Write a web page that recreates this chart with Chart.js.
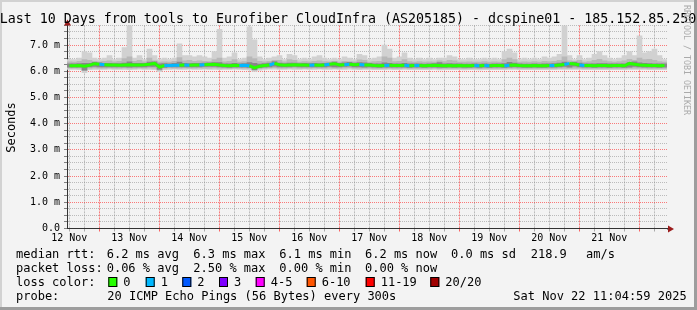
<!DOCTYPE html>
<html><head><meta charset="utf-8">
<script src="https://cdn.jsdelivr.net/npm/chart.js@4.4.0/dist/chart.umd.min.js"></script>
<style>html,body{margin:0;padding:0;background:#f3f3f3}canvas{display:block}</style>
</head><body>
<canvas id="c" width="697" height="310"></canvas>
<script>
// ---------- DATA ----------
const titleText = 'Last 10 Days from tools to Eurofiber CloudInfra (AS205185) - dcspine01 - 185.152.85.250';
const startTime = Date.UTC(2025, 10, 12, 11, 4, 59);   // graph start
const spanHours = 240;                                 // 10 days
const sampleStepHours = 2;                             // one sample every 2 h
const yTickStep = 0.25, yMax = 7.75;
const monthName = 'Nov';

// median RTT (ms)
const median = [6.21,6.21,6.22,6.19,6.23,6.29,6.27,6.25,6.24,6.24,
6.23,6.24,6.25,6.24,6.24,6.25,6.27,6.30,6.16,6.22,
6.22,6.23,6.23,6.24,6.23,6.24,6.24,6.25,6.26,6.27,
6.24,6.22,6.21,6.23,6.22,6.23,6.21,6.13,6.19,6.22,
6.24,6.30,6.25,6.23,6.24,6.25,6.24,6.24,6.23,6.24,
6.23,6.24,6.27,6.29,6.24,6.25,6.27,6.25,6.26,6.24,
6.24,6.22,6.21,6.22,6.23,6.22,6.22,6.23,6.21,6.22,
6.22,6.21,6.22,6.23,6.22,6.21,6.22,6.21,6.22,6.21,
6.21,6.22,6.21,6.22,6.21,6.22,6.22,6.21,6.23,6.24,
6.22,6.21,6.21,6.22,6.21,6.21,6.22,6.22,6.24,6.26,
6.30,6.28,6.24,6.22,6.22,6.21,6.22,6.22,6.21,6.22,
6.22,6.21,6.30,6.27,6.24,6.23,6.22,6.22,6.21,6.22];
// packet loss count per sample (out of 20)
const loss = [0,0,0,0,0,0,1,0,0,0,
0,0,0,0,0,0,0,0,0,1,
1,1,0,1,0,0,1,0,0,0,
0,0,0,0,1,1,0,0,0,0,
1,0,0,0,0,0,0,0,1,0,
0,1,0,0,0,1,0,0,1,0,
0,0,0,1,0,0,0,1,0,1,
0,0,0,0,0,0,0,0,0,0,
0,1,0,1,0,0,0,1,0,0,
0,0,0,0,0,0,1,0,0,1,
0,0,1,0,0,0,0,0,0,0,
0,0,0,0,0,0,0,0,0,0];
// smoke: outer (light) band
const smokeHi = [6.45,6.45,6.50,6.75,6.70,6.50,6.45,6.50,6.60,6.45,
6.50,6.90,7.75,6.50,6.60,6.45,6.85,6.60,6.45,6.50,
6.45,6.50,7.05,6.60,6.60,6.55,6.60,6.55,6.50,6.75,
7.60,6.50,6.55,6.70,6.45,6.50,7.70,7.20,6.55,6.45,
6.50,6.55,6.60,6.45,6.65,6.60,6.45,6.50,6.45,6.55,
6.60,6.50,6.45,6.50,6.45,6.55,6.50,6.45,6.65,6.60,
6.45,6.50,6.55,7.00,6.85,6.50,6.55,6.70,6.50,6.45,
6.50,6.45,6.50,6.45,6.50,6.50,6.60,6.55,6.45,6.45,
6.50,6.45,6.45,6.50,6.45,6.50,6.45,6.75,6.85,6.70,
6.45,6.50,6.45,6.50,6.45,6.55,6.50,6.55,6.65,7.75,
6.60,6.45,6.60,6.45,6.50,6.65,6.75,6.60,6.50,6.45,
6.50,6.60,6.75,6.60,7.35,6.70,6.75,6.85,6.60,6.45];
const smokeLo = [6.07,6.07,6.06,5.95,6.06,6.07,6.07,6.07,6.08,6.07,
6.07,6.07,6.06,6.07,6.08,6.07,6.07,6.06,5.98,6.06,
6.07,6.08,6.07,6.07,6.08,6.07,6.07,6.08,6.07,6.07,
6.06,6.07,6.07,6.08,6.07,6.06,6.05,5.99,6.04,6.07,
6.08,6.08,6.07,6.07,6.08,6.07,6.07,6.08,6.07,6.07,
6.08,6.07,6.07,6.08,6.07,6.07,6.08,6.07,6.06,6.07,
6.07,6.06,6.06,6.06,6.07,6.06,6.06,6.07,6.06,6.06,
6.06,6.06,6.06,6.07,6.05,6.06,6.06,6.06,6.06,6.05,
6.06,6.06,6.05,6.06,6.06,6.06,6.06,6.06,6.07,6.07,
6.06,6.06,6.06,6.06,6.06,6.06,6.06,6.06,6.07,6.07,
6.07,6.07,6.07,6.06,6.06,6.06,6.06,6.06,6.06,6.06,
6.06,6.06,6.07,6.07,6.07,6.07,6.06,6.06,6.06,6.06];
// smoke: middle band
const midHi = [6.36,6.35,6.38,6.45,6.42,6.38,6.36,6.38,6.40,6.36,
6.38,6.48,6.55,6.38,6.42,6.36,6.50,6.40,6.35,6.36,
6.35,6.38,6.52,6.40,6.42,6.38,6.40,6.38,6.37,6.45,
6.50,6.36,6.38,6.45,6.35,6.37,6.55,6.48,6.38,6.36,
6.38,6.42,6.42,6.36,6.45,6.42,6.35,6.37,6.36,6.38,
6.40,6.37,6.36,6.38,6.35,6.38,6.37,6.36,6.44,6.42,
6.35,6.37,6.38,6.55,6.50,6.37,6.38,6.45,6.37,6.35,
6.37,6.35,6.36,6.35,6.40,6.37,6.42,6.40,6.35,6.35,
6.36,6.35,6.35,6.37,6.35,6.36,6.35,6.45,6.50,6.45,
6.35,6.36,6.35,6.37,6.35,6.38,6.37,6.38,6.42,6.55,
6.40,6.36,6.42,6.35,6.37,6.42,6.46,6.40,6.37,6.35,
6.37,6.40,6.46,6.42,6.50,6.45,6.46,6.42,6.37,6.35];
const midLo = [6.12,6.12,6.12,6.02,6.12,6.13,6.12,6.12,6.13,6.12,
6.12,6.13,6.12,6.12,6.13,6.12,6.13,6.12,6.04,6.12,
6.13,6.12,6.12,6.13,6.12,6.12,6.13,6.12,6.12,6.13,
6.12,6.12,6.11,6.12,6.12,6.12,6.11,6.04,6.10,6.12,
6.13,6.14,6.12,6.12,6.13,6.13,6.12,6.12,6.12,6.13,
6.12,6.12,6.13,6.12,6.12,6.13,6.14,6.12,6.12,6.12,
6.12,6.11,6.11,6.11,6.12,6.11,6.11,6.12,6.11,6.11,
6.11,6.11,6.11,6.12,6.10,6.11,6.11,6.11,6.11,6.10,
6.11,6.11,6.10,6.11,6.11,6.11,6.11,6.11,6.12,6.12,
6.11,6.11,6.11,6.11,6.11,6.11,6.11,6.11,6.12,6.12,
6.12,6.12,6.12,6.11,6.11,6.11,6.11,6.11,6.11,6.11,
6.11,6.11,6.12,6.12,6.12,6.12,6.11,6.11,6.11,6.11];
// smoke: inner (dark) band
const darkHi = [6.28,6.28,6.29,6.30,6.30,6.34,6.32,6.30,6.30,6.29,
6.29,6.31,6.36,6.30,6.30,6.30,6.35,6.36,6.28,6.29,
6.28,6.30,6.35,6.30,6.29,6.30,6.30,6.31,6.32,6.33,
6.33,6.28,6.28,6.30,6.28,6.29,6.33,6.30,6.27,6.29,
6.31,6.37,6.31,6.29,6.31,6.31,6.29,6.30,6.29,6.30,
6.29,6.30,6.31,6.35,6.30,6.32,6.34,6.31,6.33,6.32,
6.30,6.28,6.28,6.32,6.30,6.28,6.28,6.30,6.28,6.28,
6.28,6.27,6.28,6.29,6.33,6.28,6.29,6.28,6.28,6.27,
6.27,6.28,6.27,6.28,6.27,6.28,6.28,6.29,6.34,6.31,
6.28,6.27,6.27,6.28,6.27,6.28,6.28,6.29,6.31,6.35,
6.30,6.35,6.31,6.28,6.28,6.28,6.29,6.29,6.28,6.28,
6.28,6.28,6.33,6.36,6.32,6.30,6.29,6.28,6.28,6.28];
const darkLo = [6.16,6.16,6.16,6.04,6.17,6.18,6.17,6.17,6.17,6.17,
6.17,6.17,6.16,6.17,6.17,6.17,6.18,6.18,6.07,6.15,
6.17,6.17,6.17,6.17,6.17,6.17,6.17,6.18,6.18,6.18,
6.17,6.16,6.15,6.16,6.16,6.16,6.15,6.06,6.14,6.16,
6.17,6.19,6.17,6.17,6.17,6.18,6.17,6.17,6.17,6.17,
6.17,6.17,6.18,6.17,6.17,6.18,6.19,6.17,6.17,6.16,
6.17,6.16,6.15,6.16,6.16,6.16,6.16,6.16,6.15,6.16,
6.16,6.15,6.16,6.16,6.15,6.15,6.16,6.15,6.16,6.15,
6.15,6.16,6.15,6.16,6.15,6.16,6.16,6.15,6.16,6.17,
6.16,6.15,6.15,6.16,6.15,6.15,6.16,6.16,6.17,6.18,
6.16,6.19,6.17,6.16,6.16,6.15,6.16,6.16,6.15,6.16,
6.16,6.15,6.16,6.18,6.17,6.16,6.16,6.16,6.15,6.16];

const lossLabels = ['0','1','2','3','4-5','6-10','11-19','20/20'];
const lossLegendColors = ['#26ff00','#00b8ff','#0059ff','#7e00ff','#ff00ff','#ff5500','#ff0000','#a10000'];
const lossColorByCount = {0:'#26ff00',1:'#00b8ff',2:'#0059ff',3:'#7e00ff'};

const rttLabel = 'median rtt:';
const rttStats = ['6.2 ms avg','6.3 ms max','6.1 ms min','6.2 ms now','0.0 ms sd','218.9','am/s'];
const lossLabel = 'packet loss:';
const lossStats = ['0.06 % avg','2.50 % max','0.00 % min','0.00 % now'];
const probeText = '20 ICMP Echo Pings (56 Bytes) every 300s';
const stampText = 'Sat Nov 22 11:04:59 2025';
const yTitle = 'Seconds';
const watermark = 'RRDTOOL / TOBI OETIKER';

// ---------- BUILD ----------
const HOUR = 3600e3;
const times = median.map((_, i) => startTime + (i * sampleStepHours + sampleStepHours / 2) * HOUR);
const endTime = startTime + spanHours * HOUR;
const band = (lo, hi) => times.map((t, i) => ({x: t, y: [lo[i], hi[i]]}));

const MONO = '"DejaVu Sans Mono", monospace';
const isMidnight = v => new Date(v).getUTCHours() === 0;
const isNoon = v => new Date(v).getUTCHours() === 12;
const RED = 'rgba(255,0,0,0.5)';
const GRAY = 'rgba(150,150,150,0.6)';

const deco = {
  id: 'deco',
  beforeDraw(chart) {
    const c = chart.ctx;
    c.save();
    c.fillStyle = '#f3f3f3'; c.fillRect(0, 0, 697, 310);
    c.fillStyle = '#d2d2d2'; c.fillRect(0, 0, 697, 2); c.fillRect(0, 0, 2, 310);
    c.fillStyle = '#9d9d9d'; c.fillRect(0, 307, 697, 3); c.fillRect(694, 0, 3, 310);
    c.restore();
  },
  afterDraw(chart) {
    const c = chart.ctx, a = chart.chartArea;
    c.save();
    // axis extensions & arrows
    c.strokeStyle = '#333'; c.lineWidth = 1;
    c.beginPath(); c.moveTo(a.left + 0.5, a.top); c.lineTo(a.left + 0.5, 22); c.stroke();
    c.beginPath(); c.moveTo(a.right, a.bottom + 0.5); c.lineTo(670, a.bottom + 0.5); c.stroke();
    c.fillStyle = '#9b1c1c';
    c.beginPath(); c.moveTo(a.left + 0.5, 19.5); c.lineTo(a.left - 3, 25.5); c.lineTo(a.left + 4, 25.5); c.closePath(); c.fill();
    c.beginPath(); c.moveTo(674, a.bottom + 0.5); c.lineTo(668, a.bottom - 3); c.lineTo(668, a.bottom + 4); c.closePath(); c.fill();
    // title
    c.fillStyle = '#000';
    c.font = '13.3px ' + MONO; c.textAlign = 'center'; c.textBaseline = 'alphabetic';
    c.fillText(titleText, 348, 23);
    // y title
    c.save(); c.translate(14.5, 127.5); c.rotate(-Math.PI / 2);
    c.font = '12px ' + MONO; c.textAlign = 'center'; c.fillText(yTitle, 0, 0); c.restore();
    // watermark
    c.save(); c.translate(684, 60); c.rotate(Math.PI / 2);
    c.font = '8.3px ' + MONO; c.fillStyle = '#aaaaaa'; c.textAlign = 'center'; c.fillText(watermark, 0, 0); c.restore();
    // legend
    c.font = '12px ' + MONO; c.textAlign = 'left'; c.fillStyle = '#000';
    const rows = [258.3, 272.3, 286.3, 300];
    const cols = [106.7, 193.3, 279.3, 365, 451, 530.7, 586];
    c.fillText(rttLabel, 16, rows[0]);
    rttStats.forEach((s, i) => c.fillText(s, cols[i], rows[0]));
    c.fillText(lossLabel, 16, rows[1]);
    lossStats.forEach((s, i) => c.fillText(s, cols[i], rows[1]));
    c.fillText('loss color:', 16, rows[2]);
    const boxX = [108.3, 145.7, 182.3, 219, 255.7, 306.7, 365.7, 430.3];
    lossLabels.forEach((l, i) => {
      c.fillStyle = lossLegendColors[i]; c.fillRect(boxX[i], 277, 9, 10);
      c.strokeStyle = '#000'; c.strokeRect(boxX[i] + 0.5, 277.5, 8, 9);
      c.fillStyle = '#000'; c.fillText(l, boxX[i] + 15, rows[2]);
    });
    c.fillText('probe:', 16, rows[3]);
    c.fillText(probeText, 107.3, rows[3]);
    c.fillText(stampText, 513.3, rows[3]);
    c.restore();
  }
};

const xTicks = [];
for (let t = Date.UTC(2025, 10, 12, 12, 0, 0); t <= endTime; t += 6 * HOUR) xTicks.push({value: t});
const yTicks = [];
for (let i = 0; i * yTickStep <= yMax + 1e-9; i++) yTicks.push({value: +(i * yTickStep).toFixed(2)});

new Chart(document.getElementById('c'), {
  type: 'bar',
  data: {
    datasets: [
      {type: 'line', data: times.map((t, i) => ({x: t, y: median[i]})), borderWidth: 3, pointRadius: 0,
       borderColor: '#26ff00', order: 0,
       segment: {borderColor: ctx => lossColorByCount[loss[ctx.p0DataIndex]] || '#26ff00'}},
      {data: band(darkLo, darkHi), backgroundColor: '#888888', order: 1, grouped: false, barPercentage: 1, categoryPercentage: 1, borderWidth: 0},
      {data: band(midLo, midHi), backgroundColor: '#b8b8b8', order: 2, grouped: false, barPercentage: 1, categoryPercentage: 1, borderWidth: 0},
      {data: band(smokeLo, smokeHi), backgroundColor: '#d1d1d1', order: 3, grouped: false, barPercentage: 1, categoryPercentage: 1, borderWidth: 0}
    ]
  },
  options: {
    responsive: false, animation: false, devicePixelRatio: 1,
    layout: {padding: {top: 25.4, right: 30, left: 0, bottom: 0}},
    plugins: {legend: {display: false}, tooltip: {enabled: false}, title: {display: false}},
    scales: {
      x: {
        type: 'linear', min: startTime, max: endTime, offset: false, z: 1,
        afterBuildTicks: s => { s.ticks = xTicks.map(t => ({value: t.value})); },
        afterFit: s => { s.height = 81.5; },
        ticks: {autoSkip: false, maxRotation: 0, padding: 1, color: '#000',
          font: {family: MONO, size: 10},
          callback: v => isNoon(v) ? new Date(v).getUTCDate() + ' ' + monthName : ''},
        grid: {offset: false, lineWidth: 1, tickLength: 3,
          color: c => isMidnight(c.tick.value) ? RED : GRAY,
          tickColor: c => isMidnight(c.tick.value) ? 'rgba(255,0,0,0.6)' : 'rgba(120,120,120,0.6)'},
        border: {display: true, color: '#333', width: 1, dash: [2, 1]}
      },
      y: {
        type: 'linear', min: 0, max: yMax, z: 1,
        afterBuildTicks: s => { s.ticks = yTicks.map(t => ({value: t.value})); },
        afterFit: s => { s.width = 67; },
        ticks: {autoSkip: false, padding: 4, color: '#000', font: {family: MONO, size: 10},
          callback: v => Math.abs(v - Math.round(v)) < 1e-6 ? (v === 0 ? '0.0' : v.toFixed(1) + ' m') : ''},
        grid: {lineWidth: 1, tickLength: 3,
          color: c => Math.abs(c.tick.value - Math.round(c.tick.value)) < 1e-6 ? RED : GRAY,
          tickColor: 'rgba(80,80,80,0.7)'},
        border: {display: true, color: '#333', width: 1, dash: [1, 1]}
      }
    }
  },
  plugins: [deco]
});
</script>
</body></html>
